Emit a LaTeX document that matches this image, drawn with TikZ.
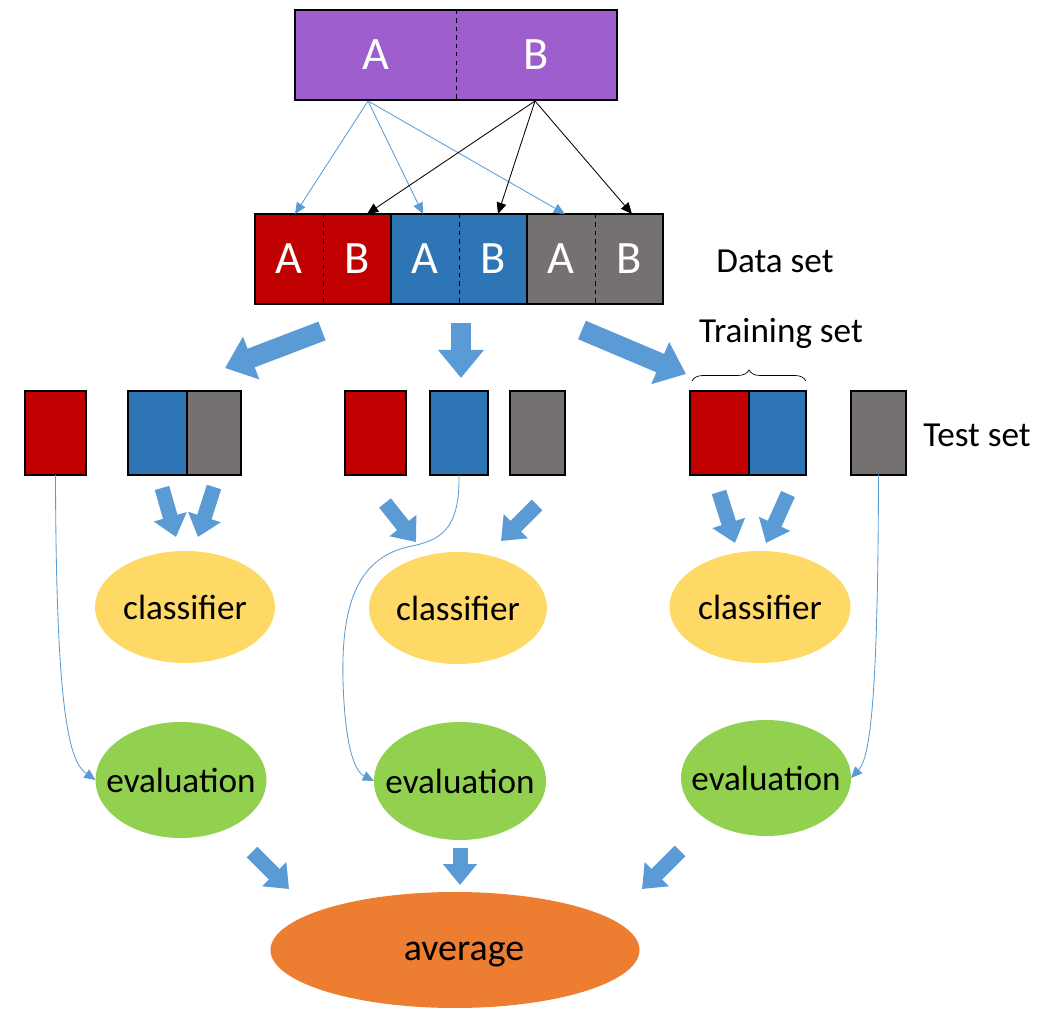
\documentclass[tikz,border=0pt]{standalone}
\usepackage{fontspec}
\setmainfont{Carlito}
\usetikzlibrary{arrows.meta,decorations.pathreplacing,calc,shapes.geometric}
\definecolor{cpurple}{HTML}{9E5ECE}
\definecolor{cred}{HTML}{C00000}
\definecolor{cblue}{HTML}{2E75B6}
\definecolor{cgray}{HTML}{767171}
\definecolor{cyellow}{HTML}{FFD966}
\definecolor{cgreen}{HTML}{92D050}
\definecolor{corange}{HTML}{ED7D31}
\definecolor{carrow}{HTML}{5B9BD5}
\def\px{0.025cm}
\tikzset{
  seg/.style={rectangle,inner sep=0pt,outer sep=0pt,minimum height=90*\px,text=white,font=\fontsize{33}{36}\selectfont},
  sbox/.style={rectangle,draw=black,line width=1.4pt,inner sep=0pt,outer sep=0pt,minimum height=84*\px},
  oval/.style={ellipse,inner sep=0pt,outer sep=0pt},
  lab/.style={inner sep=0pt,font=\fontsize{25}{30}\selectfont},
  thinb/.style={draw=carrow,line width=0.6pt,-{Triangle[length=8pt,width=7pt]}},
  think/.style={draw=black,line width=0.6pt,-{Triangle[length=8pt,width=7pt]}},
  fat/.style={draw=carrow,-{Triangle[width=0pt 2.2,length=0pt 1.4]}},
}
\begin{document}
\begin{tikzpicture}[x=0.025cm,y=-0.025cm]
\useasboundingbox (0,0) rectangle (1048,1023);
% top box
\node[seg,fill=cpurple,minimum width=161*\px] (topA) at (375.5,55) {A};
\node[seg,fill=cpurple,minimum width=161*\px] (topB) at (536.5,55) {B};
\draw[line width=1.4pt] (topA.north west) rectangle (topB.south east);
\draw[dashed,line width=0.5pt] (topA.north east) -- (topA.south east);
% data set
\node[seg,fill=cred,minimum width=68*\px] (d1) at (289,259) {A};
\node[seg,fill=cred,minimum width=68*\px] (d2) at (357,259) {B};
\node[seg,fill=cblue,minimum width=68*\px] (d3) at (425,259) {A};
\node[seg,fill=cblue,minimum width=68*\px] (d4) at (493,259) {B};
\node[seg,fill=cgray,minimum width=68*\px] (d5) at (561,259) {A};
\node[seg,fill=cgray,minimum width=68*\px] (d6) at (629,259) {B};
\draw[line width=1.4pt] (d1.north west) rectangle (d6.south east);
\draw[line width=1.4pt] (d2.north east) -- (d2.south east) (d4.north east) -- (d4.south east);
\draw[dashed,line width=0.5pt] (d1.north east) -- (d1.south east) (d3.north east) -- (d3.south east) (d5.north east) -- (d5.south east);
\node[lab] (dslab) at (775,261) {Data set};
% thin arrows
\coordinate (sa) at (368,101);
\coordinate (sb) at (535,101);
\coordinate (ta1) at (295,214);
\coordinate (ta2) at (423,214);
\coordinate (ta3) at (565,214);
\coordinate (tb1) at (367,214);
\coordinate (tb2) at (498,214);
\coordinate (tb3) at (632,214);
\draw[thinb] (sa) -- (ta1);
\draw[thinb] (sa) -- (ta2);
\draw[thinb] (sa) -- (ta3);
\draw[think] (sb) -- (tb1);
\draw[think] (sb) -- (tb2);
\draw[think] (sb) -- (tb3);
% big arrows from data set
\draw[fat,line width=20*\px] (322,331) -- (225,368);
\draw[fat,line width=20*\px] (461,323) -- (461,378);
\draw[fat,line width=20*\px] (582,330) -- (686,374);
% small boxes
\node[sbox,fill=cred,minimum width=61*\px] (r1) at (55.5,433) {};
\node[sbox,fill=cblue,minimum width=59*\px] (b1) at (157.5,433) {};
\node[sbox,fill=cgray,minimum width=54*\px] (g1) at (214,433) {};
\node[sbox,fill=cred,minimum width=61*\px] (r2) at (375.5,433) {};
\node[sbox,fill=cblue,minimum width=58*\px] (b2) at (459,433) {};
\node[sbox,fill=cgray,minimum width=55*\px] (g2) at (537.5,433) {};
\node[sbox,fill=cred,minimum width=59*\px] (r3) at (719.5,433) {};
\node[sbox,fill=cblue,minimum width=57*\px] (b3) at (777.5,433) {};
\node[sbox,fill=cgray,minimum width=55*\px] (g3) at (878.5,433) {};
\node[lab] (tslab) at (977,435) {Test set};
\node[lab] (trlab) at (781,333) {Training set};
\draw[line width=0.5pt,decorate,decoration={brace,amplitude=11*\px}] (692,381) -- (806,381);
% ovals
\node[oval,fill=cyellow,minimum width=180*\px,minimum height=112*\px] (c1) at (185,607) {};
\node[lab] (c1t) at (c1.center) {classifier};
\node[oval,fill=cyellow,minimum width=178*\px,minimum height=112*\px] (c2) at (458,608) {};
\node[lab] (c2t) at (c2.center) {classifier};
\node[oval,fill=cyellow,minimum width=181*\px,minimum height=112*\px] (c3) at (760,607) {};
\node[lab] (c3t) at (c3.center) {classifier};
\node[oval,fill=cgreen,minimum width=171*\px,minimum height=116*\px] (e1) at (181,780) {};
\node[lab] (e1t) at (e1.center) {evaluation};
\node[oval,fill=cgreen,minimum width=172*\px,minimum height=118*\px] (e2) at (460,781) {};
\node[lab] (e2t) at (e2.center) {evaluation};
\node[oval,fill=cgreen,minimum width=170*\px,minimum height=116*\px] (e3) at (766,778) {};
\node[lab] (e3t) at (e3.center) {evaluation};
\node[oval,fill=corange,minimum width=369*\px,minimum height=116*\px] (avg) at (455,950) {};
\node[lab,font=\fontsize{27}{32}\selectfont] (avgt) at ($(avg.center)+(9,5)$) {average};
% small fat arrows to classifiers
\draw[fat,line width=15*\px] (162,488) -- (176,537);
\draw[fat,line width=15*\px] (214,487) -- (198,537);
\draw[fat,line width=15*\px] (385,503) -- (416,542);
\draw[fat,line width=15*\px] (537,505) -- (501,541);
\draw[fat,line width=15*\px] (719,492) -- (735,543);
\draw[fat,line width=15*\px] (788,494) -- (766,543);
% arrows to average
\draw[fat,line width=15*\px] (252,852) -- (289,889);
\draw[fat,line width=15*\px] (460,848) -- (460,885);
\draw[fat,line width=15*\px] (680,851) -- (642,889);
% test curves
\draw[thinb] (r1.south) .. controls (56,720) and (70,762) .. (e1.west);
\draw[thinb] (b2.south) .. controls (460,530) and (440,540) .. (412,546) .. controls (360,556) and (341,600) .. (343,680) .. controls (345,752) and (356,772) .. (e2.west);
\draw[thinb] (g3.south) .. controls (878,700) and (870,758) .. (e3.east);
\end{tikzpicture}
\end{document}
